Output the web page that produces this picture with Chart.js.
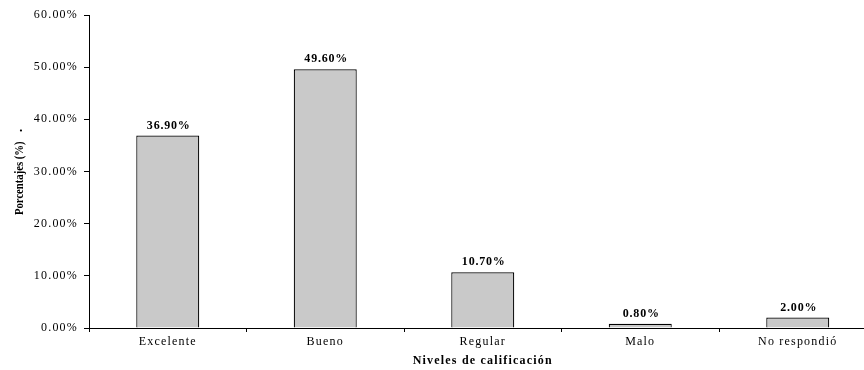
<!DOCTYPE html>
<html>
<head>
<meta charset="utf-8">
<script src="https://cdn.jsdelivr.net/npm/chart.js@4"></script>
<style>
  html, body { margin: 0; padding: 0; background: #fff; overflow: hidden; }
  #wrap { width: 864px; height: 370px; overflow: hidden; }
</style>
</head>
<body>
<div id="wrap"><canvas id="chart" width="884" height="370"></canvas></div>
<script>
// data
const categories = ["Excelente", "Bueno", "Regular", "Malo", "No respondió"];
const porcentajes = [36.9, 49.6, 10.7, 0.8, 2.0];
const yMin = 0;
const yMax = 60;
const yStep = 10;
const yTitle = "Porcentajes (%)";
const xTitle = "Niveles de calificación";

Chart.defaults.font.family = "'Liberation Serif', 'Times New Roman', serif";
Chart.defaults.color = "#000";

// canvas letter spacing so the text looks like the original (a bit wide)
const spacingPlugin = {
  id: "spacing",
  beforeLayout(chart) {
    chart.ctx.letterSpacing = "1.2px";
  },
  beforeDraw(chart) {
    chart.ctx.letterSpacing = "1.2px";
  },
};

// value labels above each bar
const valueLabels = {
  id: "valueLabels",
  afterDatasetsDraw(chart) {
    const ctx = chart.ctx;
    const meta = chart.getDatasetMeta(0);
    ctx.save();
    ctx.letterSpacing = "0.8px";
    ctx.font = "bold 12px 'Liberation Serif', serif";
    ctx.fillStyle = "#000";
    ctx.textAlign = "center";
    ctx.textBaseline = "bottom";
    meta.data.forEach((bar, i) => {
      ctx.fillText(porcentajes[i].toFixed(2) + "%", bar.x + 1, bar.y - 4);
    });
    ctx.restore();
  },
};

// rotated y title, narrow like the original
const yTitlePlugin = {
  id: "yTitle",
  afterDraw(chart) {
    const ctx = chart.ctx;
    ctx.save();
    ctx.letterSpacing = "0px";
    ctx.font = "bold 13px 'Liberation Serif', serif";
    ctx.fillStyle = "#000";
    ctx.textBaseline = "alphabetic";
    ctx.translate(23, 215);
    ctx.rotate(-Math.PI / 2);
    ctx.save();
    ctx.scale(0.82, 1);
    ctx.textAlign = "left";
    ctx.fillText(yTitle, 0, 0);
    ctx.restore();
    ctx.fillText(".", 83, -1);
    ctx.restore();
  },
};

const ctx = document.getElementById("chart").getContext("2d");
new Chart(ctx, {
  type: "bar",
  data: {
    labels: categories,
    datasets: [
      {
        data: porcentajes,
        backgroundColor: "#C9C9C9",
        borderColor: "#000",
        borderWidth: 1.2,
        barPercentage: 0.4,
        categoryPercentage: 1,
      },
    ],
  },
  options: {
    responsive: false,
    animation: false,
    layout: { padding: { top: 15, right: 7.5, left: 0, bottom: 0 } },
    plugins: {
      legend: { display: false },
      tooltip: { enabled: false },
    },
    scales: {
      x: {
        grid: { drawOnChartArea: false, color: "#000", tickLength: 4 },
        border: { color: "#000", width: 1 },
        ticks: { font: { size: 12 }, padding: 3, maxRotation: 0 },
        title: {
          display: true,
          text: xTitle,
          font: { size: 12, weight: "bold" },
          padding: { top: 0, bottom: 2 },
        },
        afterFit(scale) {
          scale.height = 42;
        },
      },
      y: {
        min: yMin,
        max: yMax,
        grid: { drawOnChartArea: false, color: "#000", tickLength: 5 },
        border: { color: "#000", width: 1 },
        ticks: {
          stepSize: yStep,
          padding: 6,
          font: { size: 12 },
          callback: (v) => v.toFixed(2) + "%",
        },
        afterFit(scale) {
          scale.width = 89;
        },
      },
    },
  },
  plugins: [spacingPlugin, valueLabels, yTitlePlugin],
});
</script>
</body>
</html>
